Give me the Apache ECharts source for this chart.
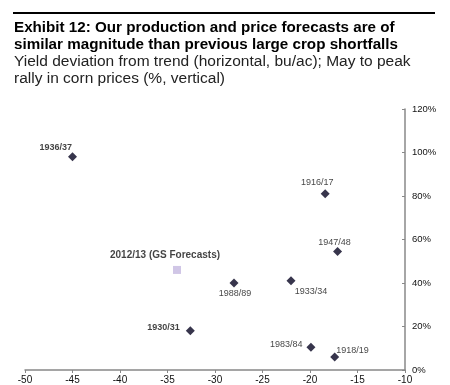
<!DOCTYPE html>
<html><head><meta charset="utf-8">
<script src="https://cdn.jsdelivr.net/npm/echarts@6/dist/echarts.min.js"></script>
<style>html,body{margin:0;padding:0;background:#fff}#c{width:450px;height:385px}</style>
</head><body><div id="c"></div>
<script>
const labels = ['1936/37','1916/17','1947/48','1988/89','1933/34','1930/31','1983/84','1918/19'];
const xVals = [-45, -18.4, -17.1, -28, -22, -32.6, -19.9, -17.4];
const yVals = [98, 81, 54.5, 40, 41, 18, 10.5, 6];
const labelPos = ['left','top','top','bottom','bottom','left','left','right'];
const boldLabels = ['1936/37','1930/31'];
const gsLabel = '2012/13 (GS Forecasts)';
const gsX = [-34];
const gsY = [46];
const xTicks = [-50,-45,-40,-35,-30,-25,-20,-15,-10];
const yTicks = [0,20,40,60,80,100,120];

const chart = echarts.init(document.getElementById('c'));
const font = 'Liberation Sans, Arial, sans-serif';
const offsets = {
  '1936/37':[8,-9], '1916/17':[-8,2], '1947/48':[-3,4], '1988/89':[1,-2],
  '1933/34':[20,-2], '1930/31':[-2,-3], '1983/84':[0,-3], '1918/19':[-7,-6]
};
const hist = labels.map((l,i)=>({value:[xVals[i], yVals[i]], name:l,
    label:{show:true, formatter:l, position:labelPos[i], offset:offsets[l],
      fontWeight: boldLabels.includes(l)?'bold':'normal'}}));
chart.setOption({
  animation:false,
  textStyle:{fontFamily:font},
  graphic:[
    {type:'rect', shape:{x:13,y:12,width:422,height:2}, style:{fill:'#000'}},
    {type:'text', left:14, top:19, style:{text:'Exhibit 12: Our production and price forecasts are of\nsimilar magnitude than previous large crop shortfalls', font:'bold 15.2px '+font, fill:'#000', lineHeight:17}},
    {type:'text', left:14, top:53, style:{text:'Yield deviation from trend (horizontal, bu/ac); May to peak\nrally in corn prices (%, vertical)', font:'15.5px '+font, fill:'#222', lineHeight:17}}
  ],
  grid:{left:25, right:45, top:109, bottom:15, containLabel:false},
  xAxis:{type:'value', min:-50, max:-10, interval:5,
    axisLine:{show:true, onZero:false, lineStyle:{color:'#888', width:1.5}},
    axisTick:{show:true, length:3, lineStyle:{color:'#888'}},
    axisLabel:{color:'#111', fontSize:10, margin:5, fontFamily:font},
    splitLine:{show:false}},
  yAxis:{type:'value', position:'right', min:0, max:120, interval:20,
    axisLine:{show:true, lineStyle:{color:'#888', width:1.5}},
    axisTick:{show:true, inside:true, length:3, lineStyle:{color:'#888'}},
    axisLabel:{color:'#111', fontSize:9.5, margin:7, fontFamily:font, formatter:'{value}%'},
    splitLine:{show:false}},
  series:[
    {type:'scatter', symbol:'diamond', symbolSize:9, itemStyle:{color:'#05031f'},
      label:{color:'#111', fontSize:9, fontFamily:font, distance:4},
      data:hist},
    {type:'scatter', symbol:'rect', symbolSize:8, itemStyle:{color:'#c4b8e0'},
      label:{show:true, formatter:gsLabel, position:'top', offset:[-12,-1], color:'#111', fontSize:10, fontWeight:'bold', fontFamily:font},
      data:gsX.map((x,i)=>[x, gsY[i]])}
  ]
});
</script></body></html>
